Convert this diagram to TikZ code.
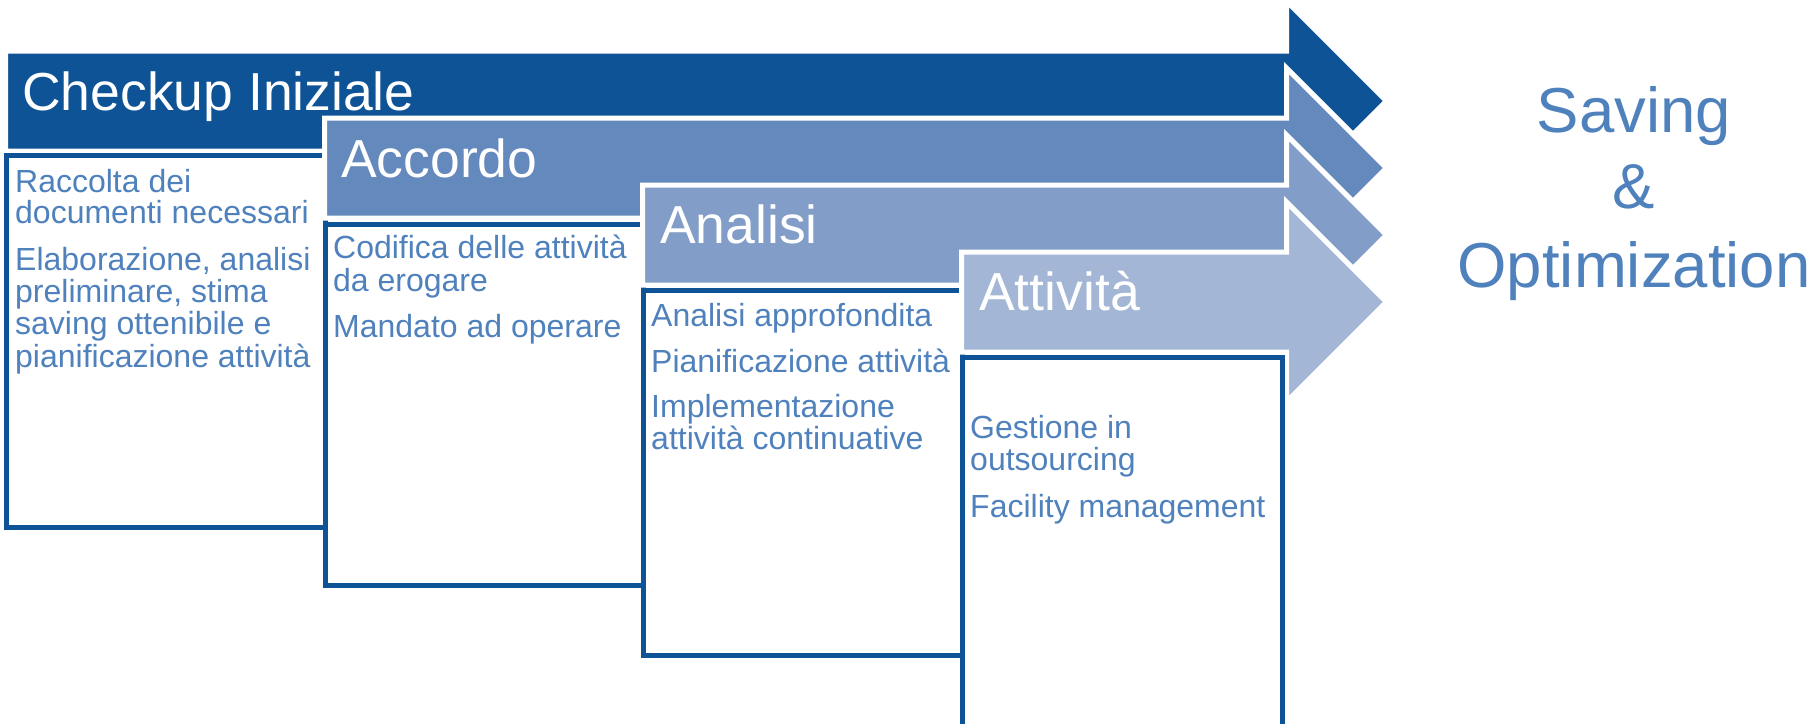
\documentclass[tikz,border=0pt]{standalone}
\usepackage{fontspec}
\setmainfont{Liberation Sans}
\definecolor{dblue}{HTML}{0E5396}
\definecolor{mblue}{HTML}{6489BD}
\definecolor{lblue}{HTML}{829EC8}
\definecolor{xblue}{HTML}{A3B6D6}
\definecolor{tblue}{HTML}{4F81BD}
\begin{document}
\begin{tikzpicture}[x=1pt,y=-1pt,
  arrowshape/.style={draw=white,line width=5pt,line join=miter},
  boxshape/.style={draw=dblue,line width=5pt,fill=white},
  titletext/.style={anchor=base west,inner sep=0pt,text=white,font=\fontsize{53.5}{60}\selectfont},
  bodytext/.style={anchor=base west,inner sep=0pt,text=tblue,font=\fontsize{32}{32}\selectfont},
  bigtext/.style={anchor=base,inner sep=0pt,text=tblue,font=\fontsize{63.5}{70}\selectfont}]
\useasboundingbox (0,0) rectangle (1814,723);
\clip (0,0) rectangle (1814,723);
% arrow 1
\draw[arrowshape,fill=dblue] (5.5,51) -- (1286.5,51) -- (1286.5,1) -- (1386.5,101) -- (1286.5,201) -- (1286.5,151) -- (5.5,151) -- cycle;
\draw[boxshape] (6,155.5) rectangle (325,527.5);
% arrow 2
\draw[arrowshape,fill=mblue] (324.5,118) -- (1286.5,118) -- (1286.5,68) -- (1386.5,168) -- (1286.5,268) -- (1286.5,218) -- (324.5,218) -- cycle;
\draw[boxshape] (325,224) rectangle (643,585);
% arrow 3
\draw[arrowshape,fill=lblue] (642.5,185) -- (1286.5,185) -- (1286.5,135) -- (1386.5,235) -- (1286.5,335) -- (1286.5,285) -- (642.5,285) -- cycle;
\draw[boxshape] (643,290.5) rectangle (962,655);
% arrow 4
\draw[arrowshape,fill=xblue] (961.5,252) -- (1286.5,252) -- (1286.5,202) -- (1386.5,302) -- (1286.5,402) -- (1286.5,352) -- (961.5,352) -- cycle;
\draw[boxshape] (962,357.5) rectangle (1282.5,780);
% titles
\node[titletext] (t1) at (22,110) {Checkup Iniziale};
\node[titletext] (t2) at (341,177) {Accordo};
\node[titletext] (t3) at (660,243) {Analisi};
\node[titletext] (t4) at (979,310) {Attività};
% box 1
\node[bodytext] (b1a) at (15,192) {Raccolta dei};
\node[bodytext] (b1b) at (15,223) {documenti necessari};
\node[bodytext] (b1c) at (15,270) {Elaborazione, analisi};
\node[bodytext] (b1d) at (15,302) {preliminare, stima};
\node[bodytext] (b1e) at (15,334) {saving ottenibile e};
\node[bodytext] (b1f) at (15,367) {pianificazione attività};
% box 2
\node[bodytext] (b2a) at (333,258) {Codifica delle attività};
\node[bodytext] (b2b) at (333,291) {da erogare};
\node[bodytext] (b2c) at (333,337) {Mandato ad operare};
% box 3
\node[bodytext] (b3a) at (651,326) {Analisi approfondita};
\node[bodytext] (b3b) at (651,372) {Pianificazione attività};
\node[bodytext] (b3c) at (651,417) {Implementazione};
\node[bodytext] (b3d) at (651,449) {attività continuative};
% box 4
\node[bodytext] (b4a) at (970,438) {Gestione in};
\node[bodytext] (b4b) at (970,470) {outsourcing};
\node[bodytext] (b4c) at (970,517) {Facility management};
% right text
\node[bigtext] (s1) at (1634,132) {Saving};
\node[bigtext] (s2) at (1634,208) {\&};
\node[bigtext] (s3) at (1634,287) {Optimization};
\end{tikzpicture}
\end{document}
